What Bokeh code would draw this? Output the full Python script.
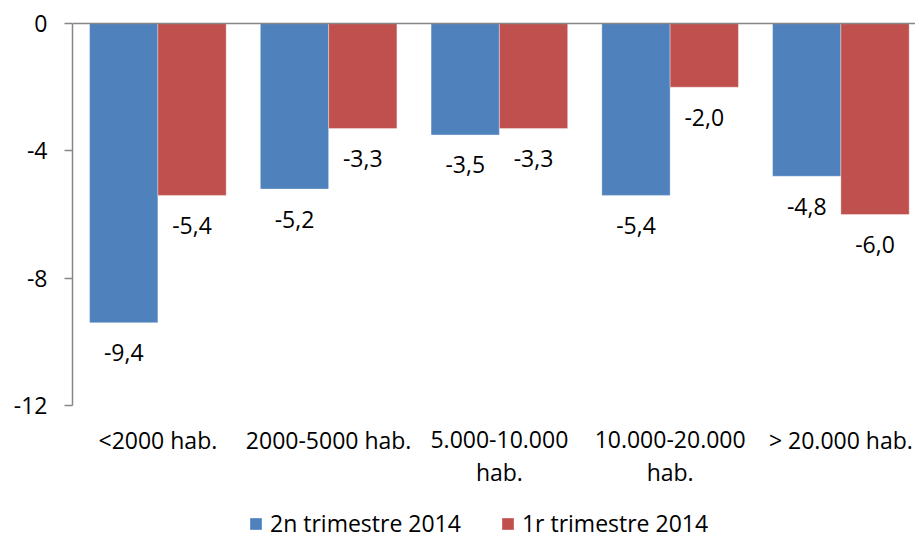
from bokeh.plotting import figure
from bokeh.models import Range1d, FixedTicker, Span, Legend, LegendItem, ColumnDataSource
from bokeh.core.properties import value
from bokeh.embed import file_html
from bokeh.resources import INLINE

categories = ["<2000 hab.", "2000-5000 hab.", "5.000-10.000\nhab.", "10.000-20.000\nhab.", "> 20.000 hab."]
series_names = ["2n trimestre 2014", "1r trimestre 2014"]
q2_values = [-9.4, -5.2, -3.5, -5.4, -4.8]
q1_values = [-5.4, -3.3, -3.3, -2.0, -6.0]
y_ticks = [0, -4, -8, -12]
colors = ["#4F81BD", "#C0504D"]

FONT = "Open Sans"
FS = "23px"
GRAY = "#868686"

W, H = 915, 539
left, right = 72, 0
frame_w = W - left - right
cat_px = 170.75
zero_px = 23
ymin_tick = -12
ppu = 382 / 12.0
frame_top = 21
y_end = (zero_px - frame_top) / ppu
y_start = -(H - zero_px) / ppu

p = figure(width=W, height=H, output_backend="svg", toolbar_location=None,
           x_range=Range1d(0, frame_w / cat_px), y_range=Range1d(y_start, y_end),
           min_border_left=left, min_border_right=right, min_border_top=frame_top,
           min_border_bottom=0)
p.outline_line_color = None
p.grid.visible = False
p.background_fill_color = "white"
p.xaxis.visible = False

centers = [i + 0.5 for i in range(len(categories))]
bw = 0.4
src_a = ColumnDataSource(dict(x=[c - bw / 2 for c in centers], top=q2_values,
                              lab=[f"{v:.1f}".replace(".", ",") for v in q2_values]))
src_b = ColumnDataSource(dict(x=[c + bw / 2 for c in centers], top=q1_values,
                              lab=[f"{v:.1f}".replace(".", ",") for v in q1_values]))

r_a = p.vbar(x="x", top="top", bottom=0, width=bw, source=src_a, fill_color=colors[0],
             line_color="white", line_alpha=0.35, line_width=1)
r_b = p.vbar(x="x", top="top", bottom=0, width=bw, source=src_b, fill_color=colors[1],
             line_color="white", line_alpha=0.35, line_width=1)

for src in (src_a, src_b):
    p.text(x="x", y="top", text="lab", source=src, y_offset=30, text_align="center",
           text_baseline="alphabetic", text_font=value(FONT), text_font_size=FS,
           text_color="black")

# category labels (drawn in the extended frame below the y axis bounds)
lines = [c.split("\n") for c in categories]
line1 = [l[0] for l in lines]
line2 = [l[1] if len(l) > 1 else "" for l in lines]
cat_src = ColumnDataSource(dict(x=centers, y=[ymin_tick] * len(centers), l1=line1, l2=line2))
p.text(x="x", y="y", text="l1", source=cat_src, y_offset=34, text_align="center",
       text_baseline="alphabetic", text_font=value(FONT), text_font_size=FS, text_color="black")
p.text(x="x", y="y", text="l2", source=cat_src, y_offset=66, text_align="center",
       text_baseline="alphabetic", text_font=value(FONT), text_font_size=FS, text_color="black")

p.add_layout(Span(location=0, dimension="width", line_color=GRAY, line_width=1.5))

# y axis
ya = p.yaxis[0]
ya.ticker = FixedTicker(ticks=y_ticks)
ya.bounds = (ymin_tick, 0)
ya.major_label_overrides = {t: str(t) for t in y_ticks}
ya.axis_line_color = GRAY
ya.axis_line_width = 1.5
ya.major_tick_line_color = GRAY
ya.major_tick_line_width = 1.5
ya.major_tick_out = 8
ya.major_tick_in = 0
ya.minor_tick_line_color = None
ya.major_label_standoff = 17
ya.major_label_text_font = FONT
ya.major_label_text_font_size = FS
ya.major_label_text_color = "black"

legend = Legend(items=[LegendItem(label=series_names[0], renderers=[r_a]),
                       LegendItem(label=series_names[1], renderers=[r_b])],
                orientation="horizontal", location=(176, 0), padding=0, margin=0,
                spacing=39, label_standoff=7, glyph_width=15, glyph_height=15,
                border_line_color=None, background_fill_alpha=0,
                label_text_font=FONT, label_text_font_size=FS, label_text_color="black")
p.add_layout(legend)

open("out.html", "w").write(file_html(p, INLINE))
